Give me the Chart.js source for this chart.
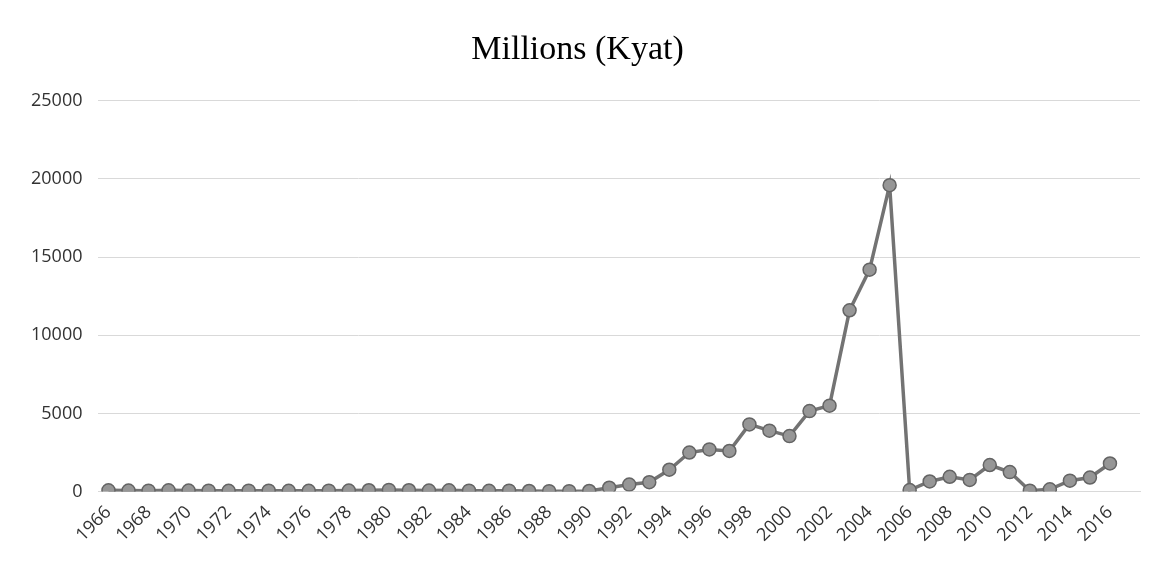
<!DOCTYPE html>
<html>
<head>
<meta charset="utf-8">
<title>Millions (Kyat)</title>
<script src="https://cdn.jsdelivr.net/npm/chart.js@4/dist/chart.umd.min.js"></script>
<style>
  html, body { margin: 0; padding: 0; background: #fff; }
  #wrap { width: 1160px; height: 574px; position: relative; }
</style>
</head>
<body>
<div id="wrap"><canvas id="kyatChart"></canvas></div>
<script>
const C_LINE = 'rgb(115, 115, 115)';
const C_POINT = 'rgb(150, 150, 150)';
const C_POINT_EDGE = 'rgb(100, 100, 100)';
const C_GRID = 'rgb(217, 217, 217)';
const C_TEXT = 'rgb(50, 50, 50)';

const years = [
    1966, 1967, 1968, 1969, 1970, 1971, 1972, 1973, 1974, 1975,
    1976, 1977, 1978, 1979, 1980, 1981, 1982, 1983, 1984, 1985,
    1986, 1987, 1988, 1989, 1990, 1991, 1992, 1993, 1994, 1995,
    1996, 1997, 1998, 1999, 2000, 2001, 2002, 2003, 2004, 2005,
    2006, 2007, 2008, 2009, 2010, 2011, 2012, 2013, 2014, 2015,
    2016
];

// millions of kyat per year
const kyat = [
    80, 70, 60, 80, 70, 60, 50, 60, 60, 50,
    50, 60, 70, 90, 110, 90, 70, 80, 60, 50,
    60, 40, 30, 30, 40, 250, 450, 600, 1400, 2500,
    2700, 2600, 4300, 3900, 3550, 5150, 5500, 11600, 14200, 19600,
    100, 650, 950, 750, 1700, 1250, 60, 150, 700, 900,
    1800
];

// every other year gets a label on the x axis
const yearTicks = [
    1966, 1968, 1970, 1972, 1974, 1976, 1978, 1980, 1982, 1984,
    1986, 1988, 1990, 1992, 1994, 1996, 1998, 2000, 2002, 2004,
    2006, 2008, 2010, 2012, 2014, 2016
];

const yTicks = [0, 5000, 10000, 15000, 20000, 25000];

const kyatChart = new Chart(
        document.getElementById('kyatChart'),
        {
            type: 'line',
            data: {
                datasets: [{
                    label: 'Millions (Kyat)',
                    data: years.map((y, i) => ({x: y, y: kyat[i]})),
                    borderColor: C_LINE,
                    borderWidth: 3.5,
                    backgroundColor: C_POINT,
                    pointBackgroundColor: C_POINT,
                    pointBorderColor: C_POINT_EDGE,
                    pointBorderWidth: 1.5,
                    pointRadius: 6.5,
                    tension: 0,
                }]
            },
            options: {
                animation: false,
                responsive: true,
                maintainAspectRatio: false,
                layout: {
                    padding: {top: 30, right: 20, bottom: 26, left: 15}
                },
                plugins: {
                    legend: {display: false},
                    tooltip: {enabled: false},
                    title: {
                        display: true,
                        text: 'Millions (Kyat)',
                        color: '#000',
                        font: {family: '"Liberation Serif", serif', size: 34, weight: 'normal'},
                        padding: {top: 0, bottom: 30}
                    }
                },
                scales: {
                    x: {
                        type: 'linear',
                        min: 1965.5,
                        max: 2017.5,
                        afterBuildTicks: (scale) => {
                            scale.ticks = yearTicks.map(v => ({value: v}));
                        },
                        grid: {display: false},
                        border: {display: true, color: C_GRID, width: 1},
                        ticks: {
                            color: C_TEXT,
                            font: {family: '"Open Sans", sans-serif', size: 18},
                            minRotation: 45,
                            maxRotation: 45,
                            autoSkip: false,
                            padding: 2,
                            callback: (v) => String(v)
                        }
                    },
                    y: {
                        min: 0,
                        max: 25000,
                        afterBuildTicks: (scale) => {
                            scale.ticks = yTicks.map(v => ({value: v}));
                        },
                        grid: {color: C_GRID, lineWidth: 1, drawTicks: false},
                        border: {display: false},
                        ticks: {
                            color: C_TEXT,
                            font: {family: '"Open Sans", sans-serif', size: 18},
                            padding: 16,
                            callback: (v) => String(v)
                        }
                    }
                }
            }
        });
</script>
</body>
</html>
